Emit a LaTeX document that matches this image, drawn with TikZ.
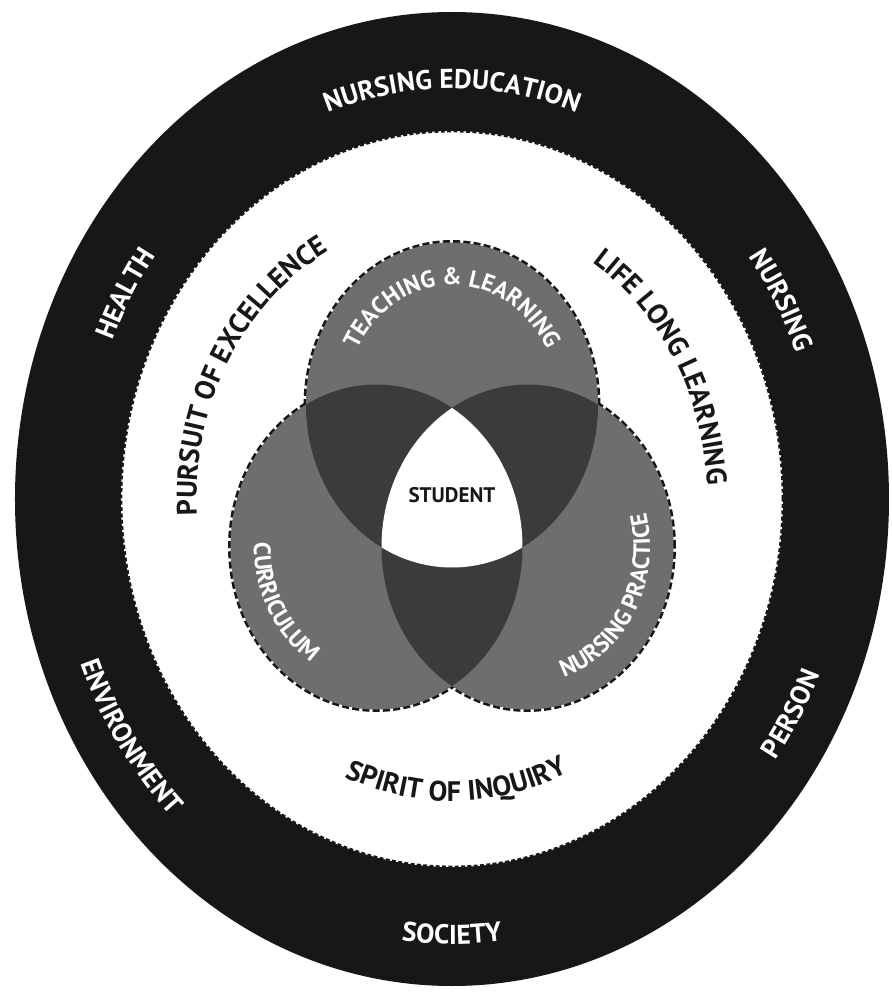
\documentclass[tikz,border=0pt]{standalone}
\usepackage{fontspec}
\setmainfont{PT Sans}
\usetikzlibrary{decorations.text}
\definecolor{ringBlack}{gray}{0.09}
\definecolor{discGray}{gray}{0.43}
\definecolor{lensGray}{gray}{0.23}

\newcommand{\ringfont}{\fontsize{15.5}{16}\selectfont\bfseries}
\newcommand{\bandfont}{\fontsize{16}{17}\selectfont\bfseries}
\newcommand{\discfont}{\fontsize{13.5}{14}\selectfont\bfseries}
\newcommand{\studentfont}{\fontsize{12}{13}\selectfont\bfseries}

\tikzset{
  ringtext/.style={decorate, decoration={text along path, text align=center, text color=white, text={|\ringfont|#1}}},
  bandtext/.style={decorate, decoration={text along path, text align=center, text color=ringBlack, text={|\bandfont|#1}}},
  disctext/.style={decorate, decoration={text along path, text align=center, text color=white, text={|\discfont|#1}}},
  vennsize/.style={x radius=2.92, y radius=3.25},
  discedge/.style={draw=ringBlack, line width=2.8pt, dash pattern=on 4pt off 1.8pt}
}

\begin{document}
\begin{tikzpicture}
    \useasboundingbox (-9.04,-9.9) rectangle (8.8,9.98);
    \fill[white] (-9.04,-9.9) rectangle (8.8,9.98);

    % outer ring and inner field
    \fill[ringBlack] (0,0) ellipse [x radius=8.74, y radius=9.74];
    \fill[white] (0,0) ellipse [x radius=6.62, y radius=7.36];
    \draw[ringBlack, line width=1.6pt, dash pattern=on 2.2pt off 1.4pt] (0,0) ellipse [x radius=6.62, y radius=7.36];

    \coordinate (teach) at (0,1.88);
    \coordinate (curric) at (-1.51,-0.96);
    \coordinate (practice) at (1.51,-0.96);

    % venn discs
    \foreach \c in {teach, curric, practice}
        \path[discedge] (\c) ellipse [vennsize];
    \foreach \c in {teach, curric, practice}
        \fill[discGray] (\c) ellipse [vennsize];
    \begin{scope}
        \clip (teach) ellipse [vennsize];
        \fill[lensGray] (curric) ellipse [vennsize];
        \fill[lensGray] (practice) ellipse [vennsize];
    \end{scope}
    \begin{scope}
        \clip (curric) ellipse [vennsize];
        \fill[lensGray] (practice) ellipse [vennsize];
    \end{scope}
    \begin{scope}
        \clip (teach) ellipse [vennsize];
        \clip (curric) ellipse [vennsize];
        \fill[white] (practice) ellipse [vennsize];
    \end{scope}

    \node[font=\studentfont, text=ringBlack] (student) at (0,0.08) {STUDENT};

    % labels in the discs
    \path[disctext={TEACHING {\&} LEARNING}] (teach) ++(160:2.14 and 2.40) arc[start angle=160, end angle=20, x radius=2.14, y radius=2.40];
    \path[disctext={CURRICULUM}] (curric) ++(156:2.45 and 2.72) arc[start angle=156, end angle=262, x radius=2.45, y radius=2.72];
    \path[disctext={NURSING PRACTICE}] (practice) ++(-98:2.45 and 2.72) arc[start angle=-98, end angle=38, x radius=2.45, y radius=2.72];

    % labels in the white band
    \path[bandtext={PURSUIT OF EXCELLENCE}] (195:5.11 and 5.66) arc[start angle=195, end angle=106, x radius=5.11, y radius=5.66];
    \path[bandtext={LIFE LONG LEARNING}] (75:5.11 and 5.66) arc[start angle=75, end angle=-14, x radius=5.11, y radius=5.66];
    \path[bandtext={SPIRIT OF INQUIRY}] (240:5.49 and 6.04) arc[start angle=240, end angle=302, x radius=5.49, y radius=6.04];

    % labels in the black ring
    \path[ringtext={NURSING EDUCATION}] (150:7.36 and 8.21) arc[start angle=150, end angle=30, x radius=7.36, y radius=8.21];
    \path[ringtext={NURSING}] (55:7.36 and 8.21) arc[start angle=55, end angle=3, x radius=7.36, y radius=8.21];
    \path[ringtext={HEALTH}] (176:7.36 and 8.21) arc[start angle=176, end angle=124, x radius=7.36, y radius=8.21];
    \path[ringtext={ENVIRONMENT}] (186:8.0 and 8.9) arc[start angle=186, end angle=242, x radius=8.0, y radius=8.9];
    \path[ringtext={PERSON}] (-56:8.0 and 8.9) arc[start angle=-56, end angle=-4, x radius=8.0, y radius=8.9];
    \path[ringtext={SOCIETY}] (250:8.0 and 8.9) arc[start angle=250, end angle=290, x radius=8.0, y radius=8.9];
\end{tikzpicture}
\end{document}
